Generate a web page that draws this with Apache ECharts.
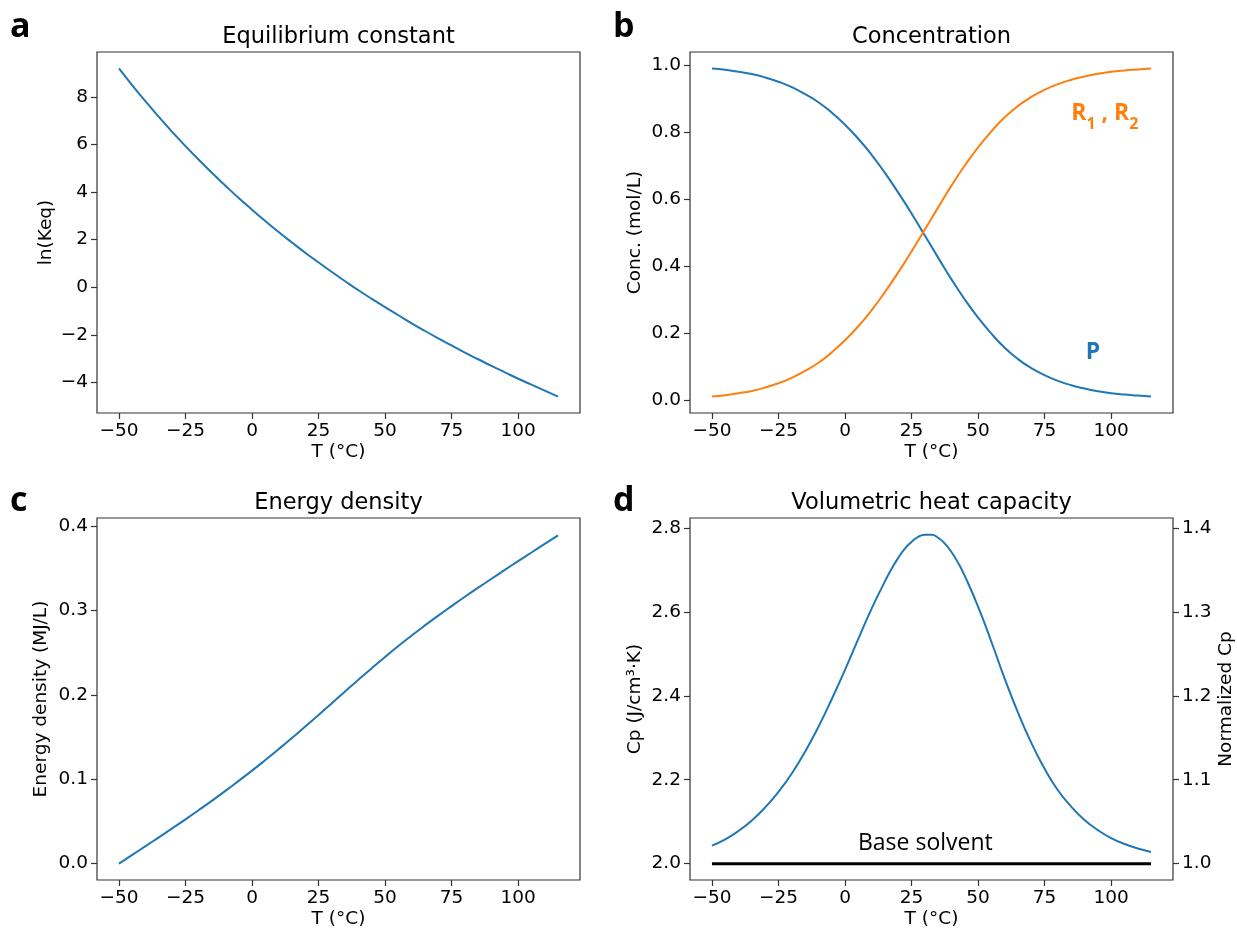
<!DOCTYPE html>
<html><head><meta charset="utf-8">
<script src="https://cdn.jsdelivr.net/npm/echarts@6/dist/echarts.min.js"></script>
<style>html,body{margin:0;padding:0;background:#fff}#c{width:1237px;height:932px}</style>
</head><body><div id="c"></div>
<script>
// ---------- data ----------
const temps = [-50,-45,-40,-35,-30,-25,-20,-15,-10,-5,0,5,10,15,20,25,30,35,40,45,50,55,60,65,70,75,80,85,90,95,100,105,110,115];
const lnKeq = [9.20,8.49,7.81,7.16,6.53,5.93,5.36,4.80,4.27,3.75,3.26,2.78,2.32,1.88,1.45,1.04,0.64,0.25,-0.13,-0.49,-0.84,-1.18,-1.52,-1.84,-2.15,-2.45,-2.75,-3.03,-3.31,-3.58,-3.85,-4.10,-4.35,-4.60];
const concP = [0.990,0.986,0.980,0.973,0.963,0.950,0.934,0.913,0.889,0.858,0.822,0.780,0.732,0.678,0.619,0.557,0.491,0.425,0.360,0.300,0.246,0.198,0.156,0.122,0.095,0.074,0.057,0.044,0.034,0.026,0.020,0.016,0.013,0.010];
const concR = [0.010,0.014,0.020,0.027,0.037,0.050,0.066,0.087,0.111,0.142,0.178,0.220,0.268,0.322,0.381,0.443,0.509,0.575,0.640,0.700,0.754,0.802,0.844,0.878,0.905,0.926,0.943,0.956,0.966,0.974,0.980,0.984,0.987,0.990];
const energyDensity = [0,0.0103,0.0206,0.0311,0.0417,0.0524,0.0634,0.0746,0.0861,0.0980,0.1101,0.1227,0.1356,0.1488,0.1624,0.1761,0.1901,0.2040,0.2179,0.2315,0.2448,0.2577,0.2702,0.2822,0.2938,0.3051,0.3162,0.3269,0.3375,0.3480,0.3584,0.3686,0.3788,0.3890];
const cpTemps = [-50,-45,-40,-35,-30,-25,-20,-15,-10,-5,0,5,10,15,17.5,20,22.5,25,27.5,30,32.5,35,37.5,40,42.5,45,50,55,60,65,70,75,80,85,90,95,100,105,110,115];
const heatCapacity = [2.043,2.058,2.078,2.103,2.134,2.171,2.215,2.267,2.326,2.392,2.462,2.536,2.608,2.673,2.703,2.729,2.751,2.767,2.779,2.784,2.784,2.777,2.763,2.743,2.717,2.686,2.613,2.529,2.441,2.360,2.288,2.226,2.175,2.136,2.104,2.080,2.061,2.047,2.036,2.028];
const baseSolventT = [-50, 115];
const baseSolventCp = [2.0, 2.0];

const xTicks = [-50,-25,0,25,50,75,100];
const lnTicks = [-4,-2,0,2,4,6,8];
const concTicks = [0.0,0.2,0.4,0.6,0.8,1.0];
const energyTicks = [0.0,0.1,0.2,0.3,0.4];
const cpTicks = [2.0,2.2,2.4,2.6,2.8];
const normTicks = [1.0,1.1,1.2,1.3,1.4];

const titles = ['Equilibrium constant','Concentration','Energy density','Volumetric heat capacity'];
const panelLetters = ['a','b','c','d'];
const annR = [85, 0.845];
const annP = [93.2, 0.142];
const annBase = [30.2, 2.048];

// ---------- chart ----------
const chart = echarts.init(document.getElementById('c'), null, {renderer: 'canvas'});
const FONT = 'DejaVu Sans';
const ANN = 'Open Sans';
const BLUE = '#1f77b4', ORANGE = '#ff7f0e';
const FS = 18.5;

const gridBoxes = [
  {left: 97, top: 52, width: 483, height: 361},
  {left: 690, top: 52, width: 483, height: 361},
  {left: 97, top: 518, width: 483, height: 362},
  {left: 690, top: 518, width: 483, height: 362}
];
const grids = gridBoxes.map(g => Object.assign({show: true, borderColor: '#333', borderWidth: 1.2, backgroundColor: 'transparent', containLabel: false}, g));

function fmt(v, d) { return (d == null ? String(v) : Number(v).toFixed(d)).replace('-', '\u2212'); }

function makeX(i) {
  return {
    type: 'value', gridIndex: i, min: -58.25, max: 123.25,
    axisLine: {show: false, onZero: false},
    splitLine: {show: false},
    axisTick: {show: true, length: 6, lineStyle: {color: '#333', width: 1.2}, customValues: xTicks},
    axisLabel: {customValues: xTicks, margin: 9, fontFamily: FONT, fontSize: FS, color: '#000', formatter: v => fmt(v)},
    name: 'T (°C)', nameLocation: 'middle', nameGap: 30,
    nameTextStyle: {fontFamily: FONT, fontSize: FS, color: '#000'}
  };
}
function makeY(i, min, max, ticks, dec, name, gap, pos) {
  return {
    type: 'value', gridIndex: i, min: min, max: max, position: pos || 'left',
    axisLine: {show: false, onZero: false},
    splitLine: {show: false},
    axisTick: {show: true, length: 6, lineStyle: {color: '#333', width: 1.2}, customValues: ticks},
    axisLabel: {customValues: ticks, margin: 9, fontFamily: FONT, fontSize: FS, color: '#000', formatter: v => fmt(v, dec)},
    name: name, nameLocation: 'middle', nameGap: gap, nameRotate: 90,
    nameTextStyle: {fontFamily: FONT, fontSize: FS, color: '#000'}
  };
}

const pairs = (xs, ys) => xs.map((x, k) => [x, ys[k]]);

const lineSeries = (xi, yi, data, color, width) => ({
  type: 'line', xAxisIndex: xi, yAxisIndex: yi, data: data, showSymbol: false, symbol: 'none',
  smooth: 0.5, lineStyle: {color: color, width: width || 2}, silent: true, z: 3
});

const annSeries = (xi, yi, pt, label) => ({
  type: 'scatter', xAxisIndex: xi, yAxisIndex: yi, data: [pt], symbolSize: 0, silent: true, z: 5,
  itemStyle: {opacity: 1},
  label: Object.assign({show: true, opacity: 1}, label)
});

const graphics = [];
const titleCenters = [[338.5, 37.5], [931.5, 37.5], [338.5, 503], [931.5, 503]];
titles.forEach((t, k) => graphics.push({
  type: 'text', x: titleCenters[k][0], y: titleCenters[k][1],
  style: {text: t, fontFamily: FONT, fontSize: 22.5, fill: '#000', align: 'center', verticalAlign: 'middle'}
}));
const letterPos = [[10, 27], [613, 27], [10, 501], [613, 501]];
panelLetters.forEach((t, k) => graphics.push({
  type: 'text', x: letterPos[k][0], y: letterPos[k][1],
  style: {text: t, fontFamily: ANN, fontWeight: 'bold', fontSize: 34, fill: '#000', align: 'left', verticalAlign: 'middle'}
}));

chart.setOption({
  animation: false,
  backgroundColor: '#fff',
  grid: grids,
  xAxis: [makeX(0), makeX(1), makeX(2), makeX(3)],
  yAxis: [
    makeY(0, -5.29, 9.89, lnTicks, null, 'ln(Keq)', 41.5),
    makeY(1, -0.039, 1.039, concTicks, 1, 'Conc. (mol/L)', 45.5),
    makeY(2, -0.0195, 0.4095, energyTicks, 1, 'Energy density (MJ/L)', 46),
    makeY(3, 1.961, 2.824, cpTicks, 1, 'Cp (J/cm³·K)', 45),
    makeY(3, 0.9805, 1.412, normTicks, 1, 'Normalized Cp', 43.5, 'right')
  ],
  graphic: graphics,
  series: [
    lineSeries(0, 0, pairs(temps, lnKeq), BLUE),
    lineSeries(1, 1, pairs(temps, concP), BLUE),
    lineSeries(1, 1, pairs(temps, concR), ORANGE),
    lineSeries(2, 2, pairs(temps, energyDensity), BLUE),
    lineSeries(3, 3, pairs(cpTemps, heatCapacity), BLUE),
    Object.assign(lineSeries(3, 3, pairs(baseSolventT, baseSolventCp), '#000', 3), {smooth: false}),
    annSeries(1, 1, annR, {
      position: 'right', distance: 0,
      formatter: '{b|R}{s|1}{b| , R}{s|2}',
      rich: {
        b: {fontFamily: ANN, fontWeight: 'bold', fontSize: 23, color: ORANGE, lineHeight: 30, verticalAlign: 'top'},
        s: {fontFamily: ANN, fontWeight: 'bold', fontSize: 16, color: ORANGE, lineHeight: 16, verticalAlign: 'bottom'}
      }
    }),
    annSeries(1, 1, annP, {
      position: 'inside', formatter: 'P',
      fontFamily: ANN, fontWeight: 'bold', fontSize: 23, color: BLUE
    }),
    annSeries(3, 3, annBase, {
      position: 'inside', formatter: 'Base solvent',
      fontFamily: ANN, fontWeight: 500, fontSize: 23, color: '#000'
    })
  ]
});
</script></body></html>
